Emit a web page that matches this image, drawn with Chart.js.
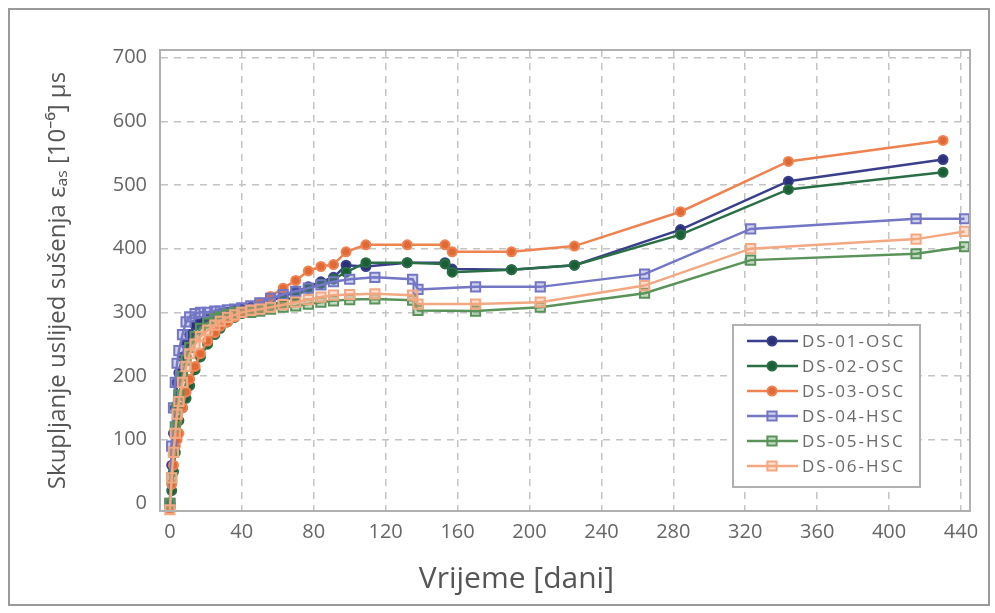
<!DOCTYPE html>
<html><head><meta charset="utf-8">
<script src="https://cdn.jsdelivr.net/npm/chart.js@4.4.1/dist/chart.umd.min.js"></script>
<style>html,body{margin:0;padding:0;background:#fff;}#wrap{position:relative;width:995px;height:613px;}</style>
</head><body><div id="wrap"><canvas id="c" width="995" height="613"></canvas></div>
<script>
// ---- data ----
const seriesNames = ['DS-01-OSC','DS-02-OSC','DS-03-OSC','DS-04-HSC','DS-05-HSC','DS-06-HSC'];
const earlyDays   = [0,1,2,3,4,5,7,9,11,14,17,21,25,28,32,36,40,45,50,56,63,70,77,84,91];
const oscLateDays = [98,109,132,153,157,190,225,284,344,430];
const hscLateDays = [100,114,135,138,170,206,264,323,415,442];

const ds01 = [0,60,110,150,190,205,230,250,265,280,285,290,295,298,300,303,305,308,312,318,325,332,340,348,355,
              374,372,378,378,368,367,374,430,506,540];
const ds02 = [0,20,50,80,110,130,150,165,185,210,230,250,265,275,285,292,298,300,305,310,318,325,338,345,352,
              363,378,378,376,363,367,374,422,493,520];
const ds03 = [-10,30,60,90,100,110,150,175,195,215,235,255,268,278,285,293,300,305,315,325,338,350,365,372,375,
              395,406,406,406,395,395,404,458,537,570];
const ds04 = [0,90,150,190,220,240,265,285,293,298,300,300,302,302,304,305,307,310,315,322,328,333,338,343,348,
              352,355,352,336,340,340,360,431,447,447];
const ds05 = [0,40,80,120,150,170,200,225,245,262,275,283,290,293,297,300,300,300,302,305,308,310,313,316,318,
              320,321,319,303,302,308,330,382,392,403];
const ds06 = [-10,40,80,110,140,160,190,215,235,250,262,272,280,286,292,296,300,303,305,308,312,316,320,324,327,
              328,329,327,313,313,316,342,400,415,427];

const xTicks = [0,40,80,120,160,200,240,280,320,360,400,440];
const yTicks = [0,100,200,300,400,500,600,700];
const xTitle = 'Vrijeme [dani]';
const yTitle = 'Skupljanje uslijed sušenja εₐₛ [10⁻⁶] µs';

// ---- build ----
const oscDays = earlyDays.concat(oscLateDays);
const hscDays = earlyDays.concat(hscLateDays);
const toPts = (days, vals) => days.map((d, i) => ({x: d, y: vals[i]}));
const seriesData = [toPts(oscDays, ds01), toPts(oscDays, ds02), toPts(oscDays, ds03),
                    toPts(hscDays, ds04), toPts(hscDays, ds05), toPts(hscDays, ds06)];

const styles = [
  {line:'#3a3f8c', fill:'#2b2f78', shape:'circle', r:4.5},
  {line:'#2a6e45', fill:'#1b5e35', shape:'circle', r:4.5},
  {line:'#ee8250', fill:'#e06a35', shape:'circle', r:4.5},
  {line:'#7276c4', fill:'rgba(120,124,200,0.35)', shape:'rect', r:6.5},
  {line:'#5a935a', fill:'rgba(90,150,90,0.35)', shape:'rect', r:6.5},
  {line:'#f3a882', fill:'rgba(240,160,120,0.35)', shape:'rect', r:6.5}
];

const datasets = seriesData.map((d, i) => ({
  label: seriesNames[i],
  data: d,
  borderColor: styles[i].line,
  backgroundColor: styles[i].fill,
  pointBorderColor: styles[i].line,
  pointBackgroundColor: styles[i].fill,
  pointStyle: styles[i].shape,
  pointRadius: styles[i].r,
  pointBorderWidth: 2,
  borderWidth: 2.5,
  tension: 0,
  clip: false
})).reverse();

const FONT = "'Open Sans', 'Noto Sans', sans-serif";
const gridCol = (edge) => (c) => (c.tick && edge.includes(c.tick.value)) ? 'rgba(0,0,0,0)' : '#c4c4c4';

const framePlugin = {
  id: 'frame',
  beforeDraw(chart) {
    const ctx = chart.ctx;
    ctx.save();
    ctx.fillStyle = '#fff';
    ctx.fillRect(0, 0, chart.width, chart.height);
    ctx.strokeStyle = '#9a9a9a';
    ctx.lineWidth = 2;
    ctx.strokeRect(9, 9, 980, 596);
    ctx.restore();
  },
  afterDraw(chart) {
    const ctx = chart.ctx, a = chart.chartArea;
    ctx.save();
    ctx.strokeStyle = '#b0b0b0';
    ctx.lineWidth = 2;
    ctx.strokeRect(a.left, a.top, a.right - a.left, a.bottom - a.top);
    // x-axis title
    ctx.fillStyle = '#555';
    ctx.font = "30px " + FONT;
    ctx.textAlign = 'center';
    ctx.textBaseline = 'middle';
    ctx.fillText(xTitle, a.left + (a.right - a.left) * 0.44, 579);
    // legend
    const bx = a.right - 237, by = a.bottom - 186, bw = 187, bh = 162;
    ctx.fillStyle = '#fff';
    ctx.fillRect(bx, by, bw, bh);
    ctx.strokeStyle = '#b0b0b0';
    ctx.lineWidth = 2;
    ctx.strokeRect(bx, by, bw, bh);
    const items = chart.data.datasets.slice().reverse();
    items.forEach((ds, i) => {
      const y = by + 16 + i * 25;
      ctx.strokeStyle = ds.borderColor;
      ctx.lineWidth = 2.5;
      ctx.beginPath(); ctx.moveTo(bx + 14, y); ctx.lineTo(bx + 65, y); ctx.stroke();
      ctx.fillStyle = ds.pointBackgroundColor;
      ctx.strokeStyle = ds.pointBorderColor;
      ctx.lineWidth = 2;
      Chart.helpers.drawPoint(ctx, {pointStyle: ds.pointStyle, radius: ds.pointRadius, borderWidth: 2, rotation: 0}, bx + 39, y);
      ctx.fillStyle = '#6a6a6a';
      ctx.font = "17px " + FONT;
      ctx.textAlign = 'left';
      ctx.textBaseline = 'middle';
      if ('letterSpacing' in ctx) ctx.letterSpacing = '2px';
      ctx.fillText(ds.label, bx + 69, y + 1);
      if ('letterSpacing' in ctx) ctx.letterSpacing = '0px';
    });
    ctx.restore();
  }
};

new Chart(document.getElementById('c'), {
  type: 'line',
  data: {datasets},
  plugins: [framePlugin],
  options: {
    responsive: false,
    animation: false,
    devicePixelRatio: 1,
    layout: {padding: {left: 0, top: 50, right: 25, bottom: 0}},
    plugins: {legend: {display: false}, tooltip: {enabled: false}},
    scales: {
      x: {
        type: 'linear', min: -5.5, max: 445,
        afterBuildTicks: s => { s.ticks = xTicks.map(v => ({value: v})); },
        afterFit: s => { s.height = 102; },
        ticks: {color: '#666', font: {family: FONT, size: 20}, padding: 9, maxRotation: 0, autoSkip: false},
        grid: {color: gridCol([0]), lineWidth: 1.5, drawTicks: false},
        border: {display: true, color: '#b0b0b0', width: 2, dash: [7, 6]}
      },
      y: {
        type: 'linear', min: -12, max: 712,
        afterBuildTicks: s => { s.ticks = yTicks.map(v => ({value: v})); },
        afterFit: s => { s.width = 160; },
        ticks: {color: '#666', font: {family: FONT, size: 20}, padding: 13},
        grid: {color: gridCol([0]), lineWidth: 1.5, drawTicks: false},
        border: {display: true, color: '#b0b0b0', width: 2, dash: [7, 6]},
        title: {display: true, text: yTitle, color: '#555', font: {family: FONT, size: 24}, padding: {top: 44, bottom: 0}}
      }
    }
  }
});
</script></body></html>
